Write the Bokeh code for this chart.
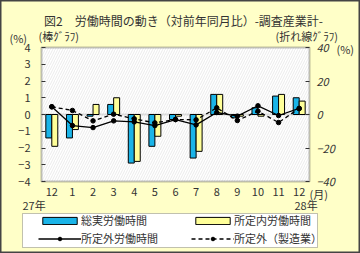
from bokeh.plotting import figure
from bokeh.models import (Range1d, LinearAxis, FixedTicker, BoxAnnotation,
                          Label, Legend, LegendItem, ColumnDataSource)
from bokeh.transform import dodge
from bokeh.embed import file_html
from bokeh.resources import INLINE

# ---- data ----
months = ["12", "1", "2", "3", "4", "5", "6", "7", "8", "9", "10", "11", "12"]
total_hours = [-1.4, -1.4, -0.1, 0.6, -2.9, -1.9, -0.3, -2.6, 1.2, -0.2, 0.4, 1.1, 1.0]
scheduled_hours = [-1.9, -0.9, 0.6, 1.0, -2.8, -1.3, -0.1, -2.2, 1.2, -0.1, -0.1, 1.2, 0.8]
overtime_hours = [4.6, -6.6, -7.8, -3.8, -4.4, -6.6, -3.0, -6.2, 1.2, -1.0, 5.2, -0.6, 3.6]
overtime_mfg = [4.6, 2.4, -3.8, 0.2, -2.6, -5.0, -3.0, -3.2, 4.0, -3.6, 2.0, -4.8, 3.6]
left_ticks = [-4, -3, -2, -1, 0, 1, 2, 3, 4]
right_ticks = [-40, -20, 0, 20, 40]

FONT = "Noto Sans CJK JP"
TXT = "#333333"
BG = "#FFFFC8"
CYAN = "#1AB4E8"
YELLOW = "#FFFF99"

# ---- layout geometry (canvas pixels) ----
W, H = 360, 253
PL, PR, PT, PB = 41, 309, 47, 181   # visible plot-area box
n = len(months)
x_lo, x_hi = -0.5, n - 0.5
y_lo, y_hi = min(left_ticks), max(left_ticks)
RATIO = max(right_ticks) / max(left_ticks)
pxx = (PR - PL) / (x_hi - x_lo)
pxy = (PB - PT) / (y_hi - y_lo)
X0 = x_lo - PL / pxx
X1 = x_hi + (W - PR) / pxx
Y0 = y_lo - (H - PB) / pxy
Y1 = y_hi + PT / pxy


def dx(cx):
    """canvas px (from left) -> data x"""
    return X0 + cx / pxx


def dy(cy):
    """canvas px (from top) -> data y"""
    return Y1 - cy / pxy


xs = list(range(n))
src = ColumnDataSource(dict(x=xs, total=total_hours, sched=scheduled_hours,
                            ot=overtime_hours, otm=overtime_mfg))

p = figure(width=W, height=H, output_backend="svg", toolbar_location=None,
           x_range=Range1d(X0, X1), y_range=Range1d(Y0, Y1),
           x_axis_location=None, y_axis_location=None,
           min_border=0, min_border_left=0, min_border_right=0,
           min_border_top=0, min_border_bottom=0,
           background_fill_color=BG, border_fill_color=BG,
           outline_line_color="#444444", outline_line_width=2)
p.title.visible = False
p.xgrid.visible = False
p.ygrid.visible = False

# plot area box with faint hatch
p.add_layout(BoxAnnotation(left=x_lo, right=x_hi, bottom=y_lo, top=y_hi,
                           fill_color="white", fill_alpha=1,
                           hatch_pattern="/", hatch_color="#ebebeb",
                           hatch_scale=5, hatch_weight=1,
                           line_color="#333333", line_width=2, level="image"))
# zero line inside the plot area
p.add_layout(BoxAnnotation(left=x_lo, right=x_hi, bottom=0, top=0,
                           fill_alpha=0, line_color="#A0A0A0", line_width=2,
                           level="underlay"))

p.extra_y_ranges = {"line": Range1d(Y0 * RATIO, Y1 * RATIO)}

r_total = p.vbar(x=dodge("x", -0.145), top="total", bottom=0, width=0.29,
                 fill_color=CYAN, line_color="black", line_width=1, source=src)
r_sched = p.vbar(x=dodge("x", 0.145), top="sched", bottom=0, width=0.29,
                 fill_color=YELLOW, line_color="black", line_width=1, source=src)

l_ot = p.line(x="x", y="ot", y_range_name="line", line_color="black", line_width=1.3, source=src)
m_ot = p.scatter(x="x", y="ot", y_range_name="line", size=4.5, marker="circle",
                 fill_color="black", line_color="black", source=src)
l_mfg = p.line(x="x", y="otm", y_range_name="line", line_color="black", line_width=1.3,
               line_dash="4 3", source=src)
m_mfg = p.scatter(x="x", y="otm", y_range_name="line", size=4.5, marker="circle",
                  fill_color="black", line_color="black", source=src)

# axes (fixed at the plot-area edges)
ax_l = LinearAxis(ticker=FixedTicker(ticks=left_ticks), fixed_location=x_lo)
ax_l.major_label_standoff = 11
p.add_layout(ax_l, "left")

ax_r = LinearAxis(y_range_name="line", ticker=FixedTicker(ticks=right_ticks),
                  fixed_location=x_hi)
ax_r.major_label_standoff = 7
ax_r.major_label_text_font_style = "italic"
p.add_layout(ax_r, "right")

ax_b = LinearAxis(ticker=FixedTicker(ticks=xs), fixed_location=y_lo)
ax_b.major_label_overrides = {i: m for i, m in enumerate(months)}
ax_b.major_label_standoff = 6
p.add_layout(ax_b, "below")

for ax in [ax_l, ax_r, ax_b]:
    ax.axis_line_color = None
    ax.minor_tick_line_color = None
    ax.major_tick_in = 4
    ax.major_tick_out = 0
    ax.major_tick_line_color = "#333333"
    ax.major_label_text_font = FONT
    ax.major_label_text_font_size = "11px"
    ax.major_label_text_color = TXT
ax_b.major_tick_line_color = None


def lab(text, cx, cy, align="left", size="11px"):
    p.add_layout(Label(x=dx(cx), y=dy(cy), text=text, text_align=align,
                       text_baseline="middle", text_font=FONT,
                       text_font_size=size, text_color=TXT))


lab("図2\u3000労働時間の動き（対前年同月比）-調査産業計-", 183, 20, "center", "12px")
lab("(%)", 9, 37)
lab("(棒ｸﾞﾗﾌ)", 38, 35)
lab("(折れ線ｸﾞﾗﾌ)", 275, 35)
lab("(%)", 336, 48)
lab("(月)", 309, 193)
lab("27年", 22, 204)
lab("28年", 294, 204)

# legend box
p.add_layout(BoxAnnotation(left=dx(22), right=dx(317), top=dy(213), bottom=dy(247),
                           fill_color="white", fill_alpha=1, line_color="#333333",
                           line_width=1, level="underlay"))

legend = Legend(items=[
    LegendItem(label="総実労働時間", renderers=[r_total]),
    LegendItem(label="所定内労働時間", renderers=[r_sched]),
    LegendItem(label="所定外労働時間", renderers=[l_ot, m_ot]),
    LegendItem(label="所定外（製造業）", renderers=[l_mfg, m_mfg]),
], location=(38, H - 246), orientation="horizontal", ncols=2,
    padding=0, margin=0, spacing=2, glyph_width=43, glyph_height=9,
    label_height=14, label_width=108, label_standoff=0,
    border_line_color=None, background_fill_alpha=0,
    label_text_font=FONT, label_text_font_size="11px", label_text_color=TXT)
p.add_layout(legend, "center")

open("out.html", "w").write(file_html(p, INLINE))
